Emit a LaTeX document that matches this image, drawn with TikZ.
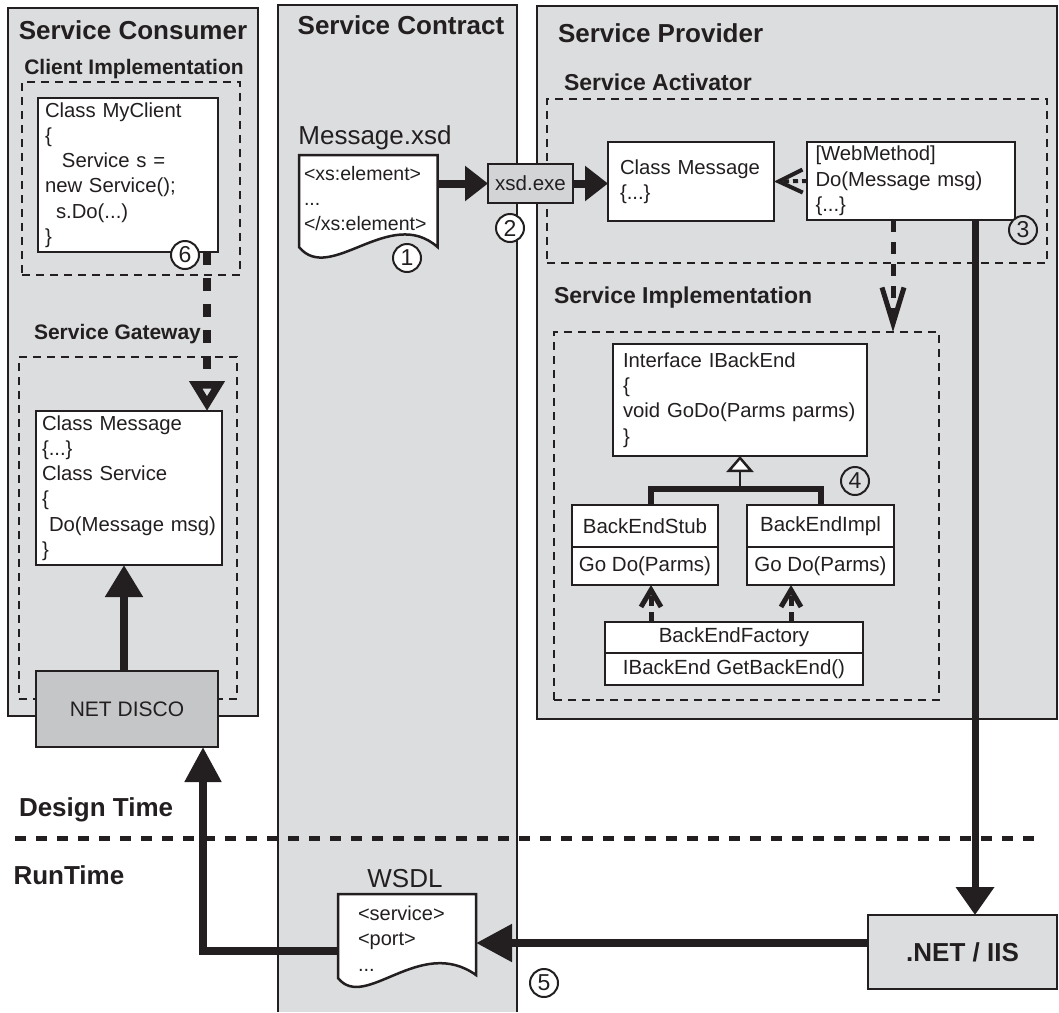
\documentclass[tikz,border=0pt]{standalone}
\usepackage{fontspec}
\setmainfont{Liberation Sans}
\usetikzlibrary{arrows.meta,calc}
\definecolor{panel}{RGB}{220,221,223}
\definecolor{darkbox}{RGB}{197,198,200}
\definecolor{midbox}{RGB}{211,212,214}
\definecolor{ink}{RGB}{35,31,32}
\tikzset{
  every node/.style={text=ink, outer sep=0pt},
  panelbox/.style={fill=panel, draw=ink, line width=2.5pt, anchor=north west, inner sep=0pt},
  title/.style={font=\fontsize{26}{31}\selectfont\bfseries, inner sep=0pt, anchor=base},
  subtitle/.style={font=\fontsize{23}{28}\selectfont\bfseries, inner sep=0pt, anchor=base west},
  smalltitle/.style={font=\fontsize{21}{25}\selectfont\bfseries, inner sep=0pt, anchor=base},
  plainlabel/.style={font=\fontsize{26}{31}\selectfont, inner sep=0pt, anchor=base},
  dbox/.style={draw=ink, dash pattern=on 8pt off 6pt, line width=2pt, inner sep=0pt, anchor=north west},
  codebox/.style={draw=ink, fill=white, line width=2.5pt, anchor=north west, align=left,
    font=\fontsize{20.3}{25.3}\selectfont, inner ysep=0pt},
  plainbox/.style={draw=ink, line width=2.5pt, anchor=north west, inner sep=0pt},
  cbox/.style={draw=ink, fill=white, line width=2.5pt, anchor=north west, inner sep=0pt,
    font=\fontsize{20.5}{25}\selectfont},
  doctext/.style={anchor=north west, inner ysep=0pt, align=left},
  num/.style={circle, draw=ink, line width=2pt, fill=white, minimum size=28pt, inner sep=0pt,
    font=\fontsize{23}{23}\selectfont},
  solidarrow/.style 2 args={draw=ink, line width=8pt, -{Triangle[length=#1pt, width=#2pt]}},
  barbarrow/.style 2 args={draw=ink, -{Straight Barb[length=#1pt, width=#2pt]}},
  docshape/.style={draw=ink, fill=white, line width=2.5pt},
}
\begin{document}
\begin{tikzpicture}[x=1pt,y=-1pt]
\useasboundingbox (0,0) rectangle (1059,1012);
\fill[white] (0,0) rectangle (1059,1012);

% ---------- Service Consumer ----------
\node[panelbox, minimum width=250pt, minimum height=708pt] (consumer) at (8,8) {};
\node[title] (tcons) at (133,39.5) {Service Consumer};
\node[smalltitle] (tclient) at (134,74.5) {Client Implementation};
\node[dbox, minimum width=218pt, minimum height=193pt] (client) at (22,82) {};
\node[codebox, inner xsep=7pt, text width=166pt, minimum height=154pt] (myclient) at (38,98)
  {Class MyClient\\\{\\\hspace*{17pt}Service s =\\new Service();\\\hspace*{11pt}s.Do(...)\\\}};
\node[smalltitle, anchor=base west] (tgw) at (34,339.5) {Service Gateway};
\node[dbox, minimum width=218pt, minimum height=342pt] (gateway) at (19,357) {};
\node[codebox, inner xsep=6pt, text width=174pt, minimum height=154pt] (gwbox) at (36,411)
  {Class Message\\\{...\}\\Class Service\\\{\\\hspace*{7pt}Do(Message msg)\\\}};

% ---------- Service Contract ----------
\fill[panel] (278,5) rectangle (517,1012);
\draw[ink, line width=2.5pt] (278,1012) -- (278,5) -- (517,5) -- (517,1012);
\node[title] (tcontract) at (401,34.5) {Service Contract};
\node[plainlabel] (txsd) at (375,144) {Message.xsd};
\draw[docshape] (299,247) -- (299,155) -- (437.5,155) -- (437.5,247)
  .. controls (390,205) and (330,285) .. (299,247) -- cycle;
\node[doctext, inner xsep=5pt, text width=128.5pt, minimum height=88pt,
  font=\fontsize{19.5}{25}\selectfont] (doc1) at (299,155)
  {<xs:element>\\...\\</xs:element>};
\node[plainlabel] (twsdl) at (405,887) {WSDL};
\draw[docshape] (338,978) -- (338,894) -- (476,894) -- (476,975)
  .. controls (420,935) and (365,1012) .. (338,978) -- cycle;
\node[doctext, inner xsep=20pt, text width=98pt, minimum height=89pt,
  font=\fontsize{20}{25.5}\selectfont] (wsdl) at (338,894)
  {<service>\\<port>\\...};

% ---------- Service Provider ----------
\node[panelbox, minimum width=520pt, minimum height=713pt] (provider) at (537,6) {};
\node[title, anchor=base west] (tprov) at (558,42.5) {Service Provider};
\node[subtitle] (tact) at (564,90) {Service Activator};
\node[dbox, minimum width=500pt, minimum height=164pt] (activator) at (547,99) {};
\node[codebox, inner xsep=12pt, text width=142pt, minimum height=79pt] (cm) at (608,142)
  {Class Message\\\{...\}};
\node[codebox, inner xsep=8.5pt, text width=191pt, minimum height=78pt] (wm) at (807,142)
  {[WebMethod]\\Do(Message msg)\\\{...\}};
\node[subtitle] (timpl) at (554,303) {Service Implementation};
\node[dbox, minimum width=385pt, minimum height=368pt] (impl) at (554,332) {};
\node[codebox, inner xsep=10pt, text width=234pt, minimum height=112pt] (iface) at (613,344)
  {Interface IBackEnd\\\{\\void GoDo(Parms parms)\\\}};
\node[cbox, minimum width=146pt, minimum height=42pt] (stub) at (572,505) {BackEndStub};
\node[cbox, minimum width=146pt, minimum height=38pt] (stubm) at (572,547) {Go Do(Parms)};
\node[cbox, minimum width=147pt, minimum height=42pt] (implc) at (747,505) {BackEndImpl};
\node[cbox, minimum width=147pt, minimum height=38pt] (implm) at (747,547) {Go Do(Parms)};
\node[cbox, minimum width=258pt, minimum height=31pt] (fac) at (605,622) {BackEndFactory};
\node[cbox, minimum width=258pt, minimum height=32pt] (facm) at (605,653) {IBackEnd GetBackEnd()};

% ---------- boxes outside panels ----------
\node[plainbox, fill=midbox, minimum width=85pt, minimum height=39pt,
  font=\fontsize{20.5}{25}\selectfont] (xsd) at (488,164) {xsd.exe};
\node[plainbox, fill=darkbox, minimum width=182pt, minimum height=76pt,
  font=\fontsize{21}{25}\selectfont] (disco) at (36,671) {NET DISCO};
\node[plainbox, fill=panel, minimum width=189pt, minimum height=74pt,
  font=\fontsize{26}{31}\selectfont\bfseries] (iis) at (868,915) {.NET / IIS};

\node[title, anchor=base west] (tdesign) at (19,816) {Design Time};
\node[title, anchor=base west] (trun) at (13.5,884) {RunTime};

% ---------- connectors ----------
\draw[solidarrow={23}{34}] (doc1.east |- xsd.west) -- (xsd.west);
\draw[solidarrow={23}{34}] (xsd.east) -- (xsd.east -| cm.west);
\draw[barbarrow={24}{23}, line width=4pt, dash pattern=on 5pt off 4pt] (wm.west) -- (cm.east);
\draw[barbarrow={36}{22}, line width=5pt, dash pattern=on 12pt off 10pt]
  ([xshift=-18pt]wm.south) -- ([xshift=-18pt]wm.south |- impl.north);
\draw[draw=ink, line width=8pt, dash pattern=on 13pt off 13pt,
  -{Triangle[open, length=30pt, width=34pt, line width=8pt]}]
  ([xshift=79pt]myclient.south) -- ([xshift=79pt]myclient.south |- gwbox.north);
\draw[solidarrow={32}{36}] ([xshift=-3pt]disco.north) -- ([xshift=-3pt]disco.north |- gwbox.south);
\draw[solidarrow={35}{35}] ([yshift=-12.5pt]wsdl.west) -| ([xshift=76pt]disco.south);
\draw[solidarrow={28}{37}, line width=7pt] ([xshift=64pt]wm.south) -- ([xshift=64pt]wm.south |- iis.north);
\draw[solidarrow={36}{36}] ([yshift=9pt]iis.west) -- ([yshift=9pt]iis.west -| wsdl.east);
\draw[barbarrow={17}{20}, line width=5pt, dash pattern=on 10pt off 6pt]
  ([xshift=6pt]stubm.south |- fac.north) -- ([xshift=6pt]stubm.south);
\draw[barbarrow={17}{20}, line width=5pt, dash pattern=on 10pt off 6pt]
  ([xshift=-29.5pt]implm.south |- fac.north) -- ([xshift=-29.5pt]implm.south);
\coordinate (bar) at ([yshift=-33pt]iface.south);
\draw[draw=ink, line width=6pt] ([xshift=6pt]stub.north) |- (bar) -| (implc.north);
\draw[draw=ink, line width=2.5pt, -{Triangle[length=16pt, width=27pt, fill=white]}] (bar) -- (iface.south);

% design/run time separator
\draw[draw=ink, line width=5pt, dash pattern=on 11pt off 10pt] (15,838) -- (1040,838);

% ---------- numbered markers ----------
\node[num] (n1) at (407,258) {1};
\node[num] (n2) at (510,228) {2};
\node[num, fill=panel] (n3) at (1023,230) {3};
\node[num, fill=panel] (n4) at (855,481) {4};
\node[num] (n5) at (544,983) {5};
\node[num] (n6) at (185,255) {6};
\end{tikzpicture}
\end{document}
